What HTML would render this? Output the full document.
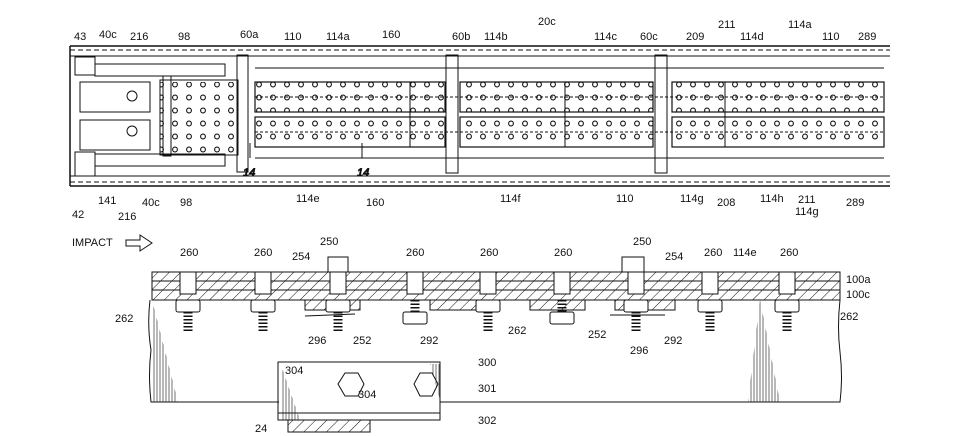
<!DOCTYPE html><html><head><style>body{margin:0;background:#fff}svg{display:block}text{font-family:"Liberation Sans",sans-serif;font-size:11px;fill:#111}</style></head><body>
<svg width="970" height="436" viewBox="0 0 970 436" xmlns="http://www.w3.org/2000/svg" stroke="#111" fill="none" stroke-width="1">
<defs>
<pattern id="h" width="8" height="8" patternUnits="userSpaceOnUse" patternTransform="rotate(45)"><line x1="0" y1="0" x2="0" y2="8" stroke="#111" stroke-width="1"/></pattern>
<pattern id="holes" width="14" height="13" patternUnits="userSpaceOnUse"><circle cx="7" cy="6.5" r="2.4" stroke="#111" stroke-width="1.1"/></pattern>
<pattern id="shade" width="3" height="10" patternUnits="userSpaceOnUse"><line x1="1" y1="0" x2="1" y2="10" stroke="#111" stroke-width="0.6"/></pattern>
</defs>
<!-- top frame -->
<line x1="70" y1="46" x2="890" y2="46" stroke-width="1.5"/>
<line x1="70" y1="50" x2="890" y2="50" stroke-dasharray="5,3"/>
<line x1="70" y1="56" x2="890" y2="56"/>
<line x1="70" y1="176" x2="890" y2="176"/>
<line x1="70" y1="182" x2="890" y2="182" stroke-dasharray="5,3"/>
<line x1="70" y1="186" x2="890" y2="186" stroke-width="1.5"/>
<line x1="70" y1="46" x2="70" y2="186" stroke-width="1.5"/>
<rect x="75" y="57" width="20" height="18"/><rect x="75" y="152" width="20" height="24"/>
<rect x="95" y="64" width="130" height="12"/><rect x="95" y="154" width="130" height="12"/>
<rect x="80" y="82" width="70" height="30"/><rect x="80" y="120" width="70" height="30"/>
<circle cx="132" cy="96" r="5"/><circle cx="132" cy="131" r="5"/>
<rect x="160" y="80" width="78" height="75" /><rect x="160" y="82" width="78" height="72" fill="url(#holes)" stroke="none"/>
<rect x="163" y="76" width="8" height="80"/>
<rect x="237" y="55" width="11" height="117"/>
<rect x="446" y="55" width="12" height="118"/>
<rect x="655" y="55" width="12" height="118"/>
<g stroke-width="1.2">
<rect x="255" y="82" width="190" height="30"/><rect x="255" y="82" width="190" height="30" fill="url(#holes)" stroke="none"/>
<rect x="255" y="117" width="190" height="30"/><rect x="255" y="117" width="190" height="30" fill="url(#holes)" stroke="none"/>
<rect x="460" y="82" width="193" height="30"/><rect x="460" y="82" width="193" height="30" fill="url(#holes)" stroke="none"/>
<rect x="460" y="117" width="193" height="30"/><rect x="460" y="117" width="193" height="30" fill="url(#holes)" stroke="none"/>
<rect x="672" y="82" width="212" height="30"/><rect x="672" y="82" width="212" height="30" fill="url(#holes)" stroke="none"/>
<rect x="672" y="117" width="212" height="30"/><rect x="672" y="117" width="212" height="30" fill="url(#holes)" stroke="none"/>
</g>
<line x1="410" y1="82" x2="410" y2="147"/><line x1="565" y1="82" x2="565" y2="147"/><line x1="725" y1="82" x2="725" y2="147"/>
<line x1="255" y1="97" x2="884" y2="97" stroke-dasharray="3,2"/><line x1="255" y1="132" x2="884" y2="132" stroke-dasharray="3,2"/>
<line x1="255" y1="158" x2="884" y2="158"/><line x1="255" y1="68" x2="884" y2="68"/>
<line x1="250" y1="143" x2="250" y2="158"/><line x1="362" y1="143" x2="362" y2="158"/>
<text x="243" y="176" font-style="italic">14</text><text x="357" y="176" font-style="italic">14</text>
<!-- top labels -->
<g stroke="none">
<text x="74" y="40">43</text><text x="99" y="38">40c</text><text x="130" y="40">216</text><text x="178" y="40">98</text>
<text x="240" y="38">60a</text><text x="284" y="40">110</text><text x="326" y="40">114a</text><text x="382" y="38">160</text>
<text x="452" y="40">60b</text><text x="484" y="40">114b</text><text x="538" y="25">20c</text><text x="594" y="40">114c</text><text x="640" y="40">60c</text>
<text x="686" y="40">209</text><text x="718" y="28">211</text><text x="740" y="40">114d</text><text x="788" y="28">114a</text><text x="822" y="40">110</text><text x="858" y="40">289</text>
<text x="72" y="218">42</text><text x="98" y="204">141</text><text x="118" y="220">216</text><text x="142" y="206">40c</text><text x="180" y="206">98</text>
<text x="296" y="202">114e</text><text x="366" y="206">160</text><text x="500" y="202">114f</text><text x="616" y="202">110</text>
<text x="680" y="202">114g</text><text x="717" y="206">208</text><text x="760" y="202">114h</text><text x="798" y="203">211</text><text x="795" y="215">114g</text><text x="846" y="206">289</text>
<text x="72" y="246" font-size="10">IMPACT</text>
</g>
<path d="M126 240 h14 v-5 l12 8 l-12 8 v-5 h-14 z"/>
<!-- bottom plates -->
<rect x="152" y="272" width="688" height="18" fill="url(#h)"/>
<line x1="152" y1="281" x2="840" y2="281"/>
<rect x="152" y="290" width="688" height="10" fill="url(#h)"/>
<rect x="305" y="300" width="55" height="10" fill="url(#h)"/><rect x="430" y="300" width="50" height="10" fill="url(#h)"/>
<rect x="530" y="300" width="55" height="10" fill="url(#h)"/><rect x="615" y="300" width="60" height="10" fill="url(#h)"/>
<!-- shading -->
<path d="M152 300 L178 402 L152 402 Z" fill="url(#shade)" stroke="none"/>
<path d="M760 300 L748 402 L780 402 Z" fill="url(#shade)" stroke="none"/>
<path d="M282 368 L300 420 L282 420 Z" fill="url(#shade)" stroke="none"/>
<path d="M430 364 L440 364 L440 400 Z" fill="url(#shade)" stroke="none"/>
<g fill="#fff">
<rect x="180" y="272" width="16" height="22"/><rect x="255" y="272" width="16" height="22"/><rect x="330" y="272" width="16" height="22"/>
<rect x="407" y="272" width="16" height="22"/><rect x="480" y="272" width="16" height="22"/><rect x="554" y="272" width="16" height="22"/>
<rect x="628" y="272" width="16" height="22"/><rect x="702" y="272" width="16" height="22"/><rect x="779" y="272" width="16" height="22"/>
<rect x="328" y="257" width="20" height="15"/><rect x="622" y="257" width="22" height="15"/>
<rect x="176" y="300" width="24" height="12" rx="2"/><rect x="251" y="300" width="24" height="12" rx="2"/><rect x="326" y="300" width="24" height="12" rx="2"/>
<rect x="403" y="312" width="24" height="12" rx="2"/><rect x="476" y="300" width="24" height="12" rx="2"/><rect x="550" y="312" width="24" height="12" rx="2"/>
<rect x="624" y="300" width="24" height="12" rx="2"/><rect x="698" y="300" width="24" height="12" rx="2"/><rect x="775" y="300" width="24" height="12" rx="2"/>
</g>
<g stroke-width="9" stroke-dasharray="1.5,2">
<line x1="188" y1="312" x2="188" y2="333"/><line x1="263" y1="312" x2="263" y2="333"/><line x1="338" y1="312" x2="338" y2="333"/>
<line x1="415" y1="300" x2="415" y2="312"/><line x1="488" y1="312" x2="488" y2="333"/><line x1="562" y1="300" x2="562" y2="312"/>
<line x1="636" y1="312" x2="636" y2="333"/><line x1="710" y1="312" x2="710" y2="333"/><line x1="787" y1="312" x2="787" y2="333"/>
</g>
<line x1="305" y1="316" x2="355" y2="314"/><line x1="610" y1="315" x2="665" y2="315"/>
<!-- body -->
<path d="M150 300 q-3 25 1 50 q-3 25 0 52 h128"/><path d="M440 402 h400 q3-25 0-50 q-3-25 0-52"/>
<rect x="278" y="362" width="162" height="58"/><line x1="278" y1="413" x2="440" y2="413"/>
<rect x="288" y="420" width="82" height="12" fill="url(#h)"/>
<polygon points="345,373 358,373 364,384 358,396 345,396 338,384"/>
<polygon points="420,373 432,373 438,384 432,396 420,396 414,384"/>
<g stroke="none">
<text x="180" y="256">260</text><text x="254" y="256">260</text><text x="320" y="245">250</text><text x="292" y="260">254</text>
<text x="406" y="256">260</text><text x="480" y="256">260</text><text x="554" y="256">260</text><text x="633" y="245">250</text><text x="665" y="260">254</text>
<text x="704" y="256">260</text><text x="733" y="256">114e</text><text x="780" y="256">260</text>
<text x="846" y="283">100a</text><text x="846" y="298">100c</text><text x="115" y="322">262</text><text x="840" y="320">262</text>
<text x="308" y="344">296</text><text x="353" y="344">252</text><text x="420" y="344">292</text><text x="508" y="334">262</text>
<text x="588" y="338">252</text><text x="630" y="354">296</text><text x="664" y="344">292</text>
<text x="285" y="374">304</text><text x="358" y="398">304</text><text x="478" y="366">300</text><text x="478" y="392">301</text><text x="478" y="424">302</text><text x="255" y="432">24</text>
</g>
</svg>
</body></html>
